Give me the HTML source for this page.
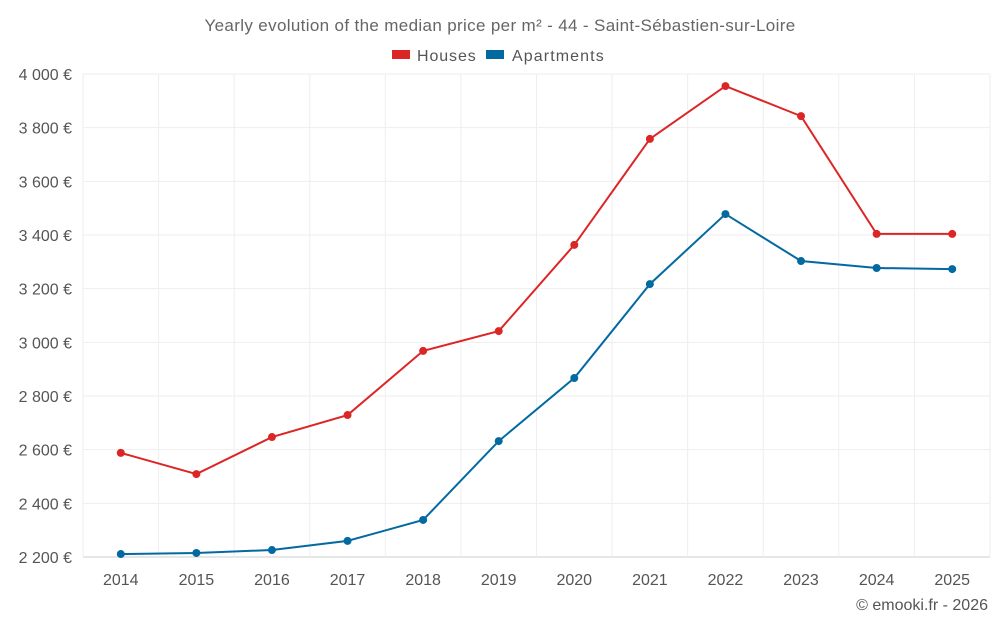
<!DOCTYPE html>
<html><head><meta charset="utf-8"><style>
body{margin:0;background:#fff;font-family:"Liberation Sans",sans-serif;}
svg text{font-family:"Liberation Sans",sans-serif;}
</style></head><body>
<svg id="chart" width="1000" height="625">
<text x="500" y="31" text-anchor="middle" font-size="17" letter-spacing="0.35" fill="#666">Yearly evolution of the median price per m² - 44 - Saint-Sébastien-sur-Loire</text>
<g>
<g><rect x="392" y="50" width="18" height="9" fill="#dc2626"/><text x="417" y="61" font-size="16" letter-spacing="0.9" fill="#555">Houses</text></g>
<g><rect x="486" y="50" width="18" height="9" fill="#0369a1"/><text x="512" y="61" font-size="16" letter-spacing="1.1" fill="#555">Apartments</text></g>
</g>
<g id="grid"></g><g id="axes"></g><g id="series"></g>
<text x="988" y="610" text-anchor="end" font-size="16" fill="#555">© emooki.fr - 2026</text>
</svg>
<script>
const years=[2014,2015,2016,2017,2018,2019,2020,2021,2022,2023,2024,2025];
const houses=[2588,2509,2647,2729,2968,3042,3363,3758,3955,3843,3404,3404];
const apartments=[2211,2215,2226,2260,2338,2632,2867,3217,3478,3303,3277,3273];
const yTicks=[2200,2400,2600,2800,3000,3200,3400,3600,3800,4000];
const NS='http://www.w3.org/2000/svg';
const L=83,R=990,T=74,B=557,ymin=2200,ymax=4000;
const step=(R-L)/years.length;
const x=i=>L+step*(i+0.5);
const y=v=>B-(v-ymin)/(ymax-ymin)*(B-T);
function mk(tag,attrs,parent){const e=document.createElementNS(NS,tag);for(const k in attrs)e.setAttribute(k,attrs[k]);parent.appendChild(e);return e;}
const grid=document.getElementById('grid'),axes=document.getElementById('axes'),ser=document.getElementById('series');
yTicks.forEach(t=>{
 const l=mk('line',{x1:L,x2:R,y1:y(t),y2:y(t),stroke:t===ymin?'#ccc':'#eee'},grid);
 
 
 const tx=mk('text',{x:72,y:y(t)+6,'text-anchor':'end','font-size':16,fill:'#555'},axes);
 tx.textContent=String(t).replace(/(\d)(\d{3})$/,'$1 $2')+' €';
 
 
});
for(let i=0;i<=years.length;i++){
 const l=mk('line',{x1:L+step*i,x2:L+step*i,y1:T,y2:B,stroke:'#eee'},grid);
 
 
}
years.forEach((yr,i)=>{
 const tx=mk('text',{x:x(i),y:585,'text-anchor':'middle','font-size':16,fill:'#555'},axes);
 tx.textContent=yr;
 
 
});
function draw(vals,color,name){
 const p=mk('polyline',{points:vals.map((v,i)=>x(i)+','+y(v)).join(' '),fill:'none',stroke:color,'stroke-width':2},ser);
 
 
 vals.forEach((v,i)=>{
  const c=mk('circle',{cx:x(i),cy:y(v),r:4,fill:color},ser);
  
  
 });
}
draw(houses,'#dc2626','houses');
draw(apartments,'#0369a1','apartments');
</script>
</body></html>
